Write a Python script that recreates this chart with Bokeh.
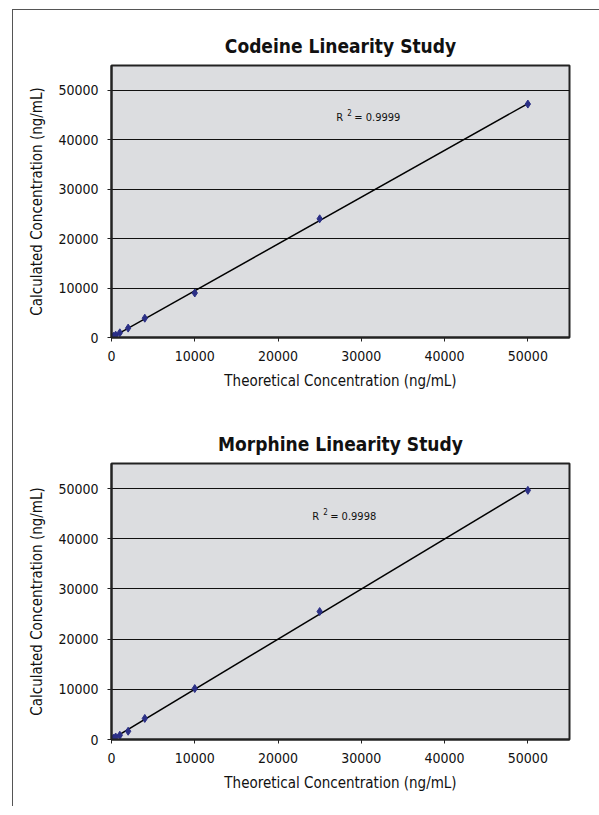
import numpy as np
from bokeh.plotting import figure
from bokeh.layouts import column
from bokeh.models import Range1d, FixedTicker, Label, NumeralTickFormatter
from bokeh.embed import file_html
from bokeh.resources import INLINE

# ---- data ----
conc = [0, 100, 250, 500, 1000, 2000, 4000, 10000, 25000, 50000]
codeine = [0, 95, 240, 480, 950, 1900, 3900, 9000, 24000, 47200]
morphine = [0, 100, 250, 500, 850, 1650, 4200, 10150, 25500, 49650]
tick_vals = [0, 10000, 20000, 30000, 40000, 50000]
codeine_r2 = "0.9999"
morphine_r2 = "0.9998"

FONT = "DejaVu Sans Condensed, Liberation Sans Narrow, sans-serif"
MARK = "#2b2f86"


def make_chart(title, yvals, r2, r2x, r2y, h, border_r, border_b):
    p = figure(width=586, height=h, output_backend="svg", toolbar_location=None,
               x_range=Range1d(0, 55000), y_range=Range1d(0, 55000),
               min_border_left=98, min_border_right=border_r,
               min_border_top=55, min_border_bottom=border_b)
    p.title.text = title
    p.title.align = "center"
    p.title.text_font = FONT
    p.title.text_font_style = "bold"
    p.title.text_font_size = "19px"
    p.title.text_color = "#111111"
    p.title.standoff = 17
    p.background_fill_color = "#dcdde0"
    p.border_fill_color = "white"
    p.outline_line_color = "#222222"
    p.outline_line_width = 2
    p.xgrid.grid_line_color = None
    p.ygrid.grid_line_color = "#111111"
    p.ygrid.grid_line_width = 1
    for ax in (p.xaxis[0], p.yaxis[0]):
        ax.ticker = FixedTicker(ticks=tick_vals)
        ax.formatter = NumeralTickFormatter(format="0")
        ax.axis_line_color = "#222222"
        ax.axis_line_width = 2
        ax.major_tick_out = 4
        ax.major_tick_in = 0
        ax.major_tick_line_color = "#222222"
        ax.minor_tick_line_color = None
        ax.major_label_text_font = FONT
        ax.major_label_text_font_size = "14px"
        ax.major_label_text_color = "#111111"
        ax.axis_label_text_font = FONT
        ax.axis_label_text_font_size = "15px"
        ax.axis_label_text_font_style = "normal"
        ax.axis_label_text_color = "#111111"
    p.xaxis.axis_label = "Theoretical Concentration (ng/mL)"
    p.yaxis.axis_label = "Calculated Concentration (ng/mL)"
    p.xaxis.major_label_standoff = 9
    p.xaxis.axis_label_standoff = 8
    p.yaxis.major_label_standoff = 9
    p.yaxis.axis_label_standoff = 9

    slope, intercept = np.polyfit(conc, yvals, 1)
    xs = [conc[0], conc[-1]]
    p.line(xs, [slope * x + intercept for x in xs], line_color="black", line_width=1.5)
    p.scatter(conc, yvals, marker="diamond", size=8, fill_color=MARK, line_color=MARK)

    p.add_layout(Label(x=r2x, y=r2y, text="R", text_font=FONT, text_font_size="11px",
                       text_baseline="middle", text_color="#111111"))
    p.add_layout(Label(x=r2x, y=r2y, x_offset=11, y_offset=5, text="2", text_font=FONT,
                       text_font_size="8px", text_baseline="middle", text_color="#111111"))
    p.add_layout(Label(x=r2x, y=r2y, x_offset=18, text="= " + r2, text_font=FONT,
                       text_font_size="11px", text_baseline="middle", text_color="#111111"))
    return p


p1 = make_chart("Codeine Linearity Study", codeine, codeine_r2, 27000, 44500, 398, 28, 71)
p2 = make_chart("Morphine Linearity Study", morphine, morphine_r2, 24100, 44400, 398, 30, 67)

layout = column(p1, p2, spacing=0,
                styles={"border-top": "1px solid #555555", "border-left": "1px solid #555555",
                        "margin-left": "12px", "margin-top": "9px"})

open("out.html", "w").write(file_html(layout, INLINE))
